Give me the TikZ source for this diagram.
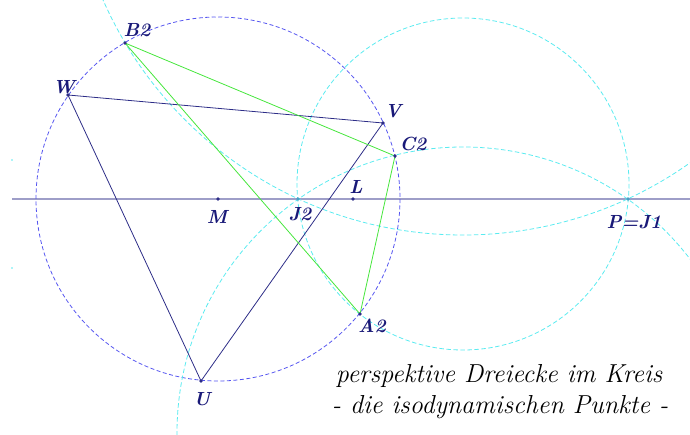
\documentclass[tikz,border=0pt]{standalone}
\usepackage{xcolor}
\definecolor{kreisblau}{RGB}{85,85,240}
\definecolor{hellcyan}{RGB}{90,235,240}
\definecolor{gruen}{RGB}{70,230,60}
\definecolor{dunkelblau}{RGB}{45,45,135}
\definecolor{achse}{RGB}{158,158,200}
\definecolor{schrift}{RGB}{25,25,120}
\tikzset{
  kreis/.style={kreisblau, dash pattern=on 4pt off 2.5pt, line width=0.8pt},
  apoll/.style={hellcyan, dash pattern=on 4.5pt off 2.5pt, line width=0.8pt},
  lbl/.style={text=schrift, font=\fontsize{19}{21}\selectfont\bfseries\itshape, inner sep=1pt},
  titel/.style={text=black, font=\fontsize{26}{30}\selectfont\itshape, inner sep=0pt},
}
\begin{document}
\begin{tikzpicture}[x=1pt,y=-1pt]
\useasboundingbox (0,0) rectangle (690,435);
\clip (0,0) rectangle (690,435);
\coordinate (M) at (218,199);
\coordinate (U) at (201,381);
\coordinate (V) at (383,123);
\coordinate (W) at (68,95);
\coordinate (A2) at (360,314);
\coordinate (B2) at (125,43);
\coordinate (C2) at (395,156);
\coordinate (L) at (353,199);
\coordinate (J2) at (298,199);
\coordinate (J1) at (628,199);
\coordinate (links) at (12,199);
\coordinate (rechts) at (690,199);
% Mittelpunkte der Kreise durch J1 und J2
\coordinate (ZA) at (463,184);
\coordinate (ZB) at (463,-158);
\coordinate (ZC) at (463,433);
\draw[achse, line width=1.8pt] (links) -- (rechts);
\draw[kreis] (M) circle (182);
\draw[apoll] (ZA) circle (166);
\draw[apoll] (ZB) circle (393);
\draw[apoll] (ZC) circle (286);
\fill[hellcyan] (12,160) circle (0.8);
\fill[hellcyan] (12,268) circle (0.8);
\draw[dunkelblau, line width=0.8pt] (U) -- (V) -- (W) -- cycle;
\draw[gruen, line width=0.8pt] (A2) -- (B2) -- (C2) -- cycle;
\foreach \p in {M,U,V,W,L,A2,B2,C2}
  \fill[dunkelblau] (\p) circle (1.8);
\foreach \p in {J1,J2}
  \fill[hellcyan!60!dunkelblau] (\p) circle (1.8);
\node[lbl] (tB2) at (137,30) {B2};
\node[lbl] (tW) at (64,87) {W};
\node[lbl] (tV) at (393,111) {V};
\node[lbl] (tC2) at (413,144) {C2};
\node[lbl] (tL) at (356,187) {L};
\node[lbl] (tM) at (217,217) {M};
\node[lbl] (tJ2) at (300,214) {J2};
\node[lbl] (tJ1) at (634,222) {P=J1};
\node[lbl] (tA2) at (372,326) {A2};
\node[lbl] (tU) at (202,399) {U};
\node[titel] (t1) at (499,376) {perspektive Dreiecke im Kreis};
\node[titel] (t2) at (500,407) {- die isodynamischen Punkte -};
\end{tikzpicture}
\end{document}
